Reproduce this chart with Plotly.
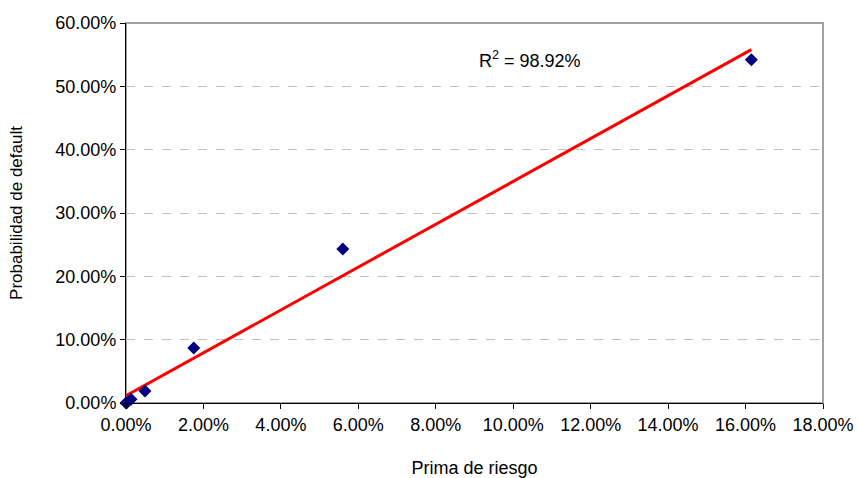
import numpy as np
import plotly.graph_objects as go

# Prima de riesgo (x) vs probabilidad de default (y), as fractions
prima_riesgo = [0.0000, 0.0002, 0.0013, 0.0049, 0.0175, 0.0560, 0.1615]
prob_default = [0.0000, 0.0005, 0.0060, 0.0190, 0.0870, 0.2430, 0.5420]
r2_label = "R<sup>2</sup> = 98.92%"

x_ticks = [i * 0.02 for i in range(10)]
y_ticks = [i * 0.10 for i in range(7)]

# Linear trend line fitted by least squares
slope, intercept = np.polyfit(prima_riesgo, prob_default, 1)
x_fit = np.array([min(prima_riesgo), max(prima_riesgo)])
y_fit = slope * x_fit + intercept

FONT = "Liberation Sans, Arial, sans-serif"

fig = go.Figure()
fig.add_trace(go.Scatter(
    x=x_fit, y=y_fit, mode="lines",
    line=dict(color="#ff0000", width=3),
    showlegend=False, hoverinfo="skip",
))
fig.add_trace(go.Scatter(
    x=prima_riesgo, y=prob_default, mode="markers",
    marker=dict(symbol="diamond", size=10, color="#000080",
                line=dict(width=0)),
    cliponaxis=False, showlegend=False,
))

fig.add_annotation(
    x=0.58, y=0.905, xref="paper", yref="paper",
    xanchor="center", yanchor="middle",
    text=r2_label, showarrow=False,
    font=dict(family=FONT, size=18, color="#000000"),
)

# light gray frame around the plot area
fig.add_shape(type="rect", xref="paper", yref="paper",
              x0=0, y0=0, x1=1, y1=1,
              line=dict(color="#a0a0a0", width=2), layer="below")

fig.update_layout(
    width=857, height=478,
    margin=dict(l=126, r=34, t=23, b=75),
    paper_bgcolor="white", plot_bgcolor="white",
    font=dict(family=FONT, size=18, color="#000000"),
)
fig.update_xaxes(
    range=[0, 0.18], tickvals=x_ticks, tickformat=".2%",
    showgrid=False, zeroline=False, automargin=False,
    showline=True, linecolor="#000000", linewidth=1,
    ticks="outside", ticklen=5, tickcolor="#000000",
    title=dict(text="Prima de riesgo", font=dict(size=18), standoff=28),
)
fig.update_yaxes(
    range=[0, 0.6], tickvals=y_ticks, tickformat=".2%",
    showgrid=True, gridcolor="#c0c0c0", griddash="dash", gridwidth=1,
    zeroline=False, automargin=False,
    showline=True, linecolor="#000000", linewidth=1,
    ticks="outside", ticklen=5, tickcolor="#000000",
    title=dict(text="Probabilidad de default", font=dict(size=17), standoff=28),
)

fig.write_html("out.html")
